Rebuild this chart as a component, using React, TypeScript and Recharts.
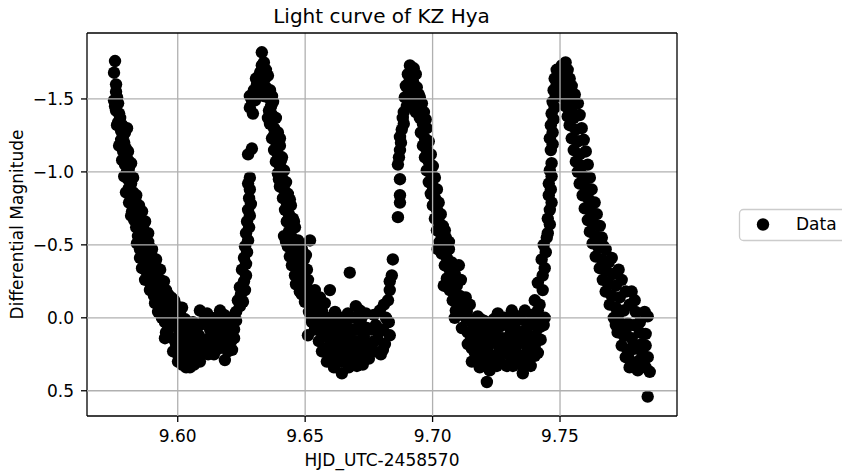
import React from 'react';
import {
  ScatterChart,
  Scatter,
  XAxis,
  YAxis,
  ReferenceLine,
} from 'recharts';

// [HJD - 2458570, differential magnitude]
const descent1: [number, number][] = [
  [9.5754, -1.76], [9.5750, -1.68], [9.5758, -1.60], [9.5758, -1.55], [9.5762, -1.51], [9.5750, -1.49],
  [9.5766, -1.47], [9.5758, -1.42], [9.5770, -1.40], [9.5774, -1.37], [9.5766, -1.34], [9.5782, -1.32],
  [9.5801, -1.30], [9.5778, -1.28], [9.5786, -1.25], [9.5778, -1.22], [9.5790, -1.20], [9.5797, -1.16],
  [9.5786, -1.14], [9.5797, -1.11], [9.5805, -1.08], [9.5793, -1.05], [9.5809, -1.03], [9.5801, -1.00],
  [9.5813, -0.98], [9.5805, -0.95], [9.5817, -0.92], [9.5809, -0.89], [9.5825, -0.86], [9.5817, -0.83],
  [9.5833, -0.81], [9.5825, -0.77], [9.5840, -0.75], [9.5821, -0.73], [9.5837, -0.71], [9.5852, -0.69],
  [9.5829, -0.67], [9.5844, -0.64], [9.5864, -0.63], [9.5852, -0.60], [9.5872, -0.58], [9.5844, -0.56],
  [9.5860, -0.53], [9.5884, -0.52], [9.5872, -0.49], [9.5891, -0.48], [9.5852, -0.47], [9.5868, -0.44],
  [9.5899, -0.42], [9.5884, -0.40], [9.5872, -0.38], [9.5911, -0.37], [9.5891, -0.34], [9.5876, -0.32],
  [9.5919, -0.32], [9.5903, -0.29], [9.5887, -0.27], [9.5931, -0.26], [9.5915, -0.23], [9.5895, -0.21],
  [9.5942, -0.21], [9.5923, -0.18], [9.5907, -0.15], [9.5962, -0.16], [9.5935, -0.13], [9.5986, -0.12],
  [9.5919, -0.10], [9.5950, -0.09], [9.5997, -0.08], [9.5931, -0.05], [9.5970, -0.05], [9.6009, -0.03],
  [9.5942, -0.01], [9.5989, 0.00], [9.6029, 0.01],
  [9.5754, -1.45], [9.5762, -1.32], [9.5793, -1.27], [9.5770, -1.18], [9.5805, -1.14], [9.5782, -1.08],
  [9.5817, -1.06], [9.5790, -0.97], [9.5825, -0.96], [9.5797, -0.86], [9.5837, -0.84], [9.5809, -0.79],
  [9.5848, -0.77], [9.5860, -0.73], [9.5817, -0.70], [9.5872, -0.66], [9.5837, -0.62], [9.5884, -0.58],
  [9.5840, -0.51], [9.5899, -0.47], [9.5852, -0.41], [9.5915, -0.40], [9.5860, -0.34], [9.5931, -0.33],
  [9.5872, -0.26], [9.5946, -0.25], [9.5891, -0.19], [9.5954, -0.19], [9.5974, -0.14], [9.5911, -0.10],
  [9.5978, -0.09], [9.6017, -0.07], [9.5923, -0.04],
];

const minimum1: [number, number][] = [
  [9.5950, 0.03], [9.5978, 0.00], [9.5962, 0.08], [9.5993, 0.05], [9.6021, 0.03], [9.5954, 0.10],
  [9.5978, 0.14], [9.6009, 0.11], [9.6040, 0.08], [9.5993, 0.18], [9.5982, 0.23], [9.6029, 0.16],
  [9.6056, 0.13], [9.6017, 0.23], [9.6048, 0.21], [9.6076, 0.17], [9.6001, 0.30], [9.6033, 0.29],
  [9.6064, 0.26], [9.6017, 0.32], [9.6048, 0.34], [9.6083, 0.23], [9.6072, 0.07], [9.6087, -0.05],
  [9.6103, 0.02], [9.6083, 0.12], [9.6123, 0.19], [9.6087, 0.30], [9.6127, 0.08], [9.6142, 0.03],
  [9.6135, 0.16], [9.6119, 0.25], [9.6158, -0.01], [9.6166, -0.05], [9.6150, 0.12], [9.6174, 0.07],
  [9.6162, 0.21], [9.6189, 0.02], [9.6197, 0.12], [9.6182, 0.18], [9.6205, 0.07], [9.6209, 0.16],
  [9.6185, 0.29], [9.6221, 0.08], [9.6217, -0.01], [9.6229, 0.02],
  [9.5938, 0.00], [9.5970, 0.05], [9.6005, 0.08], [9.6033, 0.05], [9.6060, 0.03], [9.6087, 0.05],
  [9.6115, -0.03], [9.6131, 0.00], [9.6182, -0.02], [9.6162, 0.05], [9.6189, 0.08], [9.5950, 0.14],
  [9.6040, 0.15], [9.6068, 0.21], [9.6099, 0.16], [9.6123, 0.14], [9.6146, 0.19], [9.6174, 0.15],
  [9.6197, 0.17], [9.6221, 0.14], [9.6001, 0.25], [9.6033, 0.22], [9.6099, 0.23], [9.6142, 0.25],
  [9.6197, 0.23], [9.6213, 0.22], [9.6064, 0.32], [9.6033, 0.34],
];

const rise1: [number, number][] = [
  [9.6229, -0.04], [9.6244, -0.08], [9.6236, -0.12], [9.6256, -0.11], [9.6248, -0.16], [9.6264, -0.19],
  [9.6244, -0.21], [9.6260, -0.25], [9.6268, -0.29], [9.6252, -0.33], [9.6268, -0.37], [9.6260, -0.41],
  [9.6272, -0.45], [9.6264, -0.49], [9.6276, -0.53], [9.6268, -0.58], [9.6280, -0.62], [9.6272, -0.66],
  [9.6283, -0.70], [9.6276, -0.74], [9.6287, -0.78], [9.6280, -0.82], [9.6283, -0.88], [9.6276, -0.92],
  [9.6283, -0.96], [9.6276, -1.12], [9.6291, -1.16], [9.6283, -1.44], [9.6295, -1.40], [9.6291, -1.49],
];

const peak2: [number, number][] = [
  [9.6283, -1.52], [9.6299, -1.56], [9.6303, -1.49], [9.6311, -1.60], [9.6319, -1.54], [9.6307, -1.64],
  [9.6323, -1.68], [9.6330, -1.73], [9.6338, -1.75], [9.6330, -1.82], [9.6346, -1.70], [9.6342, -1.64],
  [9.6354, -1.66], [9.6330, -1.59], [9.6346, -1.58], [9.6362, -1.56], [9.6338, -1.52], [9.6354, -1.51],
  [9.6370, -1.52], [9.6366, -1.45], [9.6358, -1.42], [9.6374, -1.48], [9.6315, -1.55],
];

const descent2: [number, number][] = [
  [9.6370, -1.39], [9.6385, -1.37], [9.6362, -1.33], [9.6378, -1.30], [9.6393, -1.27], [9.6370, -1.23],
  [9.6385, -1.21], [9.6401, -1.18], [9.6378, -1.15], [9.6393, -1.12], [9.6409, -1.10], [9.6385, -1.07],
  [9.6401, -1.04], [9.6417, -1.01], [9.6393, -0.99], [9.6409, -0.96], [9.6425, -0.93], [9.6401, -0.90],
  [9.6417, -0.88], [9.6432, -0.85], [9.6413, -0.82], [9.6428, -0.79], [9.6444, -0.77], [9.6421, -0.74],
  [9.6436, -0.71], [9.6452, -0.68], [9.6428, -0.66], [9.6444, -0.63], [9.6460, -0.62], [9.6436, -0.59],
  [9.6417, -0.56], [9.6448, -0.55], [9.6472, -0.53], [9.6519, -0.53], [9.6432, -0.49], [9.6460, -0.48],
  [9.6487, -0.47], [9.6440, -0.42], [9.6468, -0.41], [9.6495, -0.40], [9.6448, -0.36], [9.6479, -0.34],
  [9.6507, -0.33], [9.6460, -0.29], [9.6491, -0.27], [9.6475, -0.23], [9.6503, -0.21], [9.6538, -0.19],
  [9.6487, -0.16], [9.6519, -0.15], [9.6558, -0.14], [9.6597, -0.19], [9.6499, -0.11], [9.6527, -0.09],
  [9.6577, -0.10], [9.6550, -0.08], [9.6515, -0.04], [9.6675, -0.31],
  [9.6354, -1.37], [9.6378, -1.25], [9.6401, -1.23], [9.6405, -1.08], [9.6397, -0.95], [9.6440, -0.81],
  [9.6456, -0.66], [9.6425, -0.52], [9.6479, -0.51], [9.6452, -0.45], [9.6503, -0.43], [9.6472, -0.38],
  [9.6464, -0.23], [9.6511, -0.26], [9.6479, -0.18], [9.6531, -0.14],
];

const minimum2: [number, number][] = [
  [9.6538, -0.03], [9.6566, -0.05], [9.6589, 0.00], [9.6617, -0.04], [9.6644, 0.00], [9.6668, -0.03],
  [9.6695, 0.00], [9.6715, -0.05], [9.6738, -0.03], [9.6699, -0.08], [9.6550, 0.03], [9.6577, 0.05],
  [9.6605, 0.03], [9.6632, 0.07], [9.6660, 0.03], [9.6687, 0.08], [9.6715, 0.04], [9.6742, 0.07],
  [9.6511, 0.12], [9.6527, 0.03], [9.6566, 0.11], [9.6593, 0.14], [9.6620, 0.11], [9.6648, 0.15],
  [9.6675, 0.12], [9.6703, 0.16], [9.6730, 0.13], [9.6758, 0.08], [9.6581, 0.21], [9.6609, 0.18],
  [9.6636, 0.22], [9.6664, 0.19], [9.6691, 0.23], [9.6719, 0.21], [9.6746, 0.18], [9.6597, 0.27],
  [9.6624, 0.30], [9.6652, 0.26], [9.6679, 0.30], [9.6707, 0.27], [9.6734, 0.25], [9.6613, 0.34],
  [9.6644, 0.38], [9.6671, 0.34], [9.6703, 0.33], [9.6726, 0.32],
  [9.6527, 0.00], [9.6554, 0.01], [9.6609, 0.01], [9.6664, 0.01], [9.6719, 0.01], [9.6538, 0.08],
  [9.6593, 0.08], [9.6648, 0.08], [9.6703, 0.08], [9.6554, 0.16], [9.6609, 0.16], [9.6664, 0.16],
  [9.6719, 0.16], [9.6770, 0.16], [9.6566, 0.23], [9.6620, 0.23], [9.6675, 0.23], [9.6730, 0.23],
  [9.6773, 0.23], [9.6585, 0.30], [9.6640, 0.30], [9.6695, 0.30], [9.6750, 0.28],
];

const rise2: [number, number][] = [
  [9.6770, -0.02], [9.6793, -0.05], [9.6817, 0.00], [9.6777, 0.05], [9.6805, 0.08], [9.6828, 0.03],
  [9.6785, 0.15], [9.6813, 0.18], [9.6797, 0.25], [9.6832, 0.12], [9.6825, -0.12], [9.6832, -0.19],
  [9.6832, -0.25], [9.6840, -0.29], [9.6844, -0.40], [9.6864, -0.69], [9.6872, -0.79], [9.6872, -0.84],
  [9.6872, -0.95], [9.6864, -1.05], [9.6868, -1.10], [9.6872, -1.15], [9.6876, -1.20], [9.6872, -1.24],
  [9.6879, -1.29], [9.6887, -1.33], [9.6883, -1.37],
  [9.6809, -0.09], [9.6789, 0.10], [9.6805, 0.22],
];

const peak3: [number, number][] = [
  [9.6887, -1.41], [9.6899, -1.45], [9.6891, -1.51], [9.6907, -1.55], [9.6895, -1.59], [9.6911, -1.63],
  [9.6903, -1.67], [9.6919, -1.70], [9.6911, -1.73], [9.6926, -1.71], [9.6934, -1.67], [9.6923, -1.62],
  [9.6938, -1.58], [9.6946, -1.53], [9.6919, -1.52], [9.6930, -1.49], [9.6950, -1.51], [9.6942, -1.45],
  [9.6958, -1.47], [9.6934, -1.41], [9.6966, -1.41], [9.6950, -1.37], [9.6973, -1.36],
];

const descent3: [number, number][] = [
  [9.6962, -1.33], [9.6977, -1.30], [9.6954, -1.27], [9.6970, -1.23], [9.6985, -1.21], [9.6962, -1.18],
  [9.6977, -1.15], [9.6993, -1.12], [9.6970, -1.10], [9.6985, -1.07], [9.7001, -1.04], [9.6977, -1.01],
  [9.6993, -0.99], [9.7009, -0.96], [9.6985, -0.93], [9.7001, -0.90], [9.7017, -0.88], [9.6993, -0.85],
  [9.7009, -0.82], [9.7024, -0.79], [9.7001, -0.77], [9.7017, -0.74], [9.7032, -0.71], [9.7009, -0.68],
  [9.7024, -0.66], [9.7040, -0.63], [9.7017, -0.60], [9.7032, -0.58], [9.7052, -0.55], [9.7028, -0.52],
  [9.7044, -0.49], [9.7064, -0.47], [9.7036, -0.44], [9.7056, -0.41], [9.7075, -0.38], [9.7048, -0.36],
  [9.7067, -0.33], [9.7087, -0.30], [9.7056, -0.27], [9.7075, -0.25], [9.7095, -0.22], [9.7067, -0.19],
  [9.7087, -0.16], [9.7107, -0.15], [9.7079, -0.12], [9.7099, -0.09], [9.7122, -0.08], [9.7091, -0.05],
  [9.7111, -0.03], [9.7134, -0.04], [9.7087, 0.00], [9.7115, 0.07],
  [9.7048, -0.60], [9.7064, -0.52], [9.7020, -0.47], [9.7103, -0.36], [9.7111, -0.26], [9.7044, -0.22],
  [9.7130, -0.14], [9.7146, -0.09],
];

const minimum3: [number, number][] = [
  [9.7130, 0.00], [9.7154, 0.03], [9.7177, -0.01], [9.7201, 0.02], [9.7224, 0.04], [9.7256, -0.03],
  [9.7283, 0.00], [9.7311, -0.05], [9.7334, -0.01], [9.7362, -0.05], [9.7389, -0.02], [9.7413, -0.05],
  [9.7440, 0.00], [9.7138, 0.10], [9.7165, 0.13], [9.7193, 0.07], [9.7220, 0.11], [9.7248, 0.09],
  [9.7275, 0.14], [9.7303, 0.07], [9.7330, 0.12], [9.7358, 0.09], [9.7385, 0.13], [9.7413, 0.07],
  [9.7436, 0.05], [9.7154, 0.21], [9.7181, 0.18], [9.7209, 0.23], [9.7236, 0.17], [9.7264, 0.22],
  [9.7291, 0.19], [9.7318, 0.23], [9.7346, 0.17], [9.7373, 0.21], [9.7401, 0.19], [9.7424, 0.15],
  [9.7177, 0.29], [9.7205, 0.32], [9.7232, 0.27], [9.7264, 0.30], [9.7291, 0.33], [9.7318, 0.27],
  [9.7346, 0.32], [9.7373, 0.29], [9.7401, 0.26], [9.7185, 0.34], [9.7213, 0.44], [9.7354, 0.38],
  [9.7224, 0.36],
  [9.7268, 0.04], [9.7322, 0.04], [9.7373, 0.04], [9.7428, 0.04], [9.7150, 0.15], [9.7205, 0.15],
  [9.7260, 0.15], [9.7315, 0.15], [9.7370, 0.15], [9.7166, 0.24], [9.7220, 0.24], [9.7275, 0.24],
  [9.7330, 0.24], [9.7385, 0.24], [9.7413, 0.24], [9.7252, 0.33], [9.7315, 0.33], [9.7385, 0.33],
  [9.7146, 0.01], [9.7189, 0.01], [9.7240, 0.01], [9.7295, 0.01], [9.7346, 0.01], [9.7401, 0.01],
  [9.7169, 0.06], [9.7217, 0.06], [9.7264, 0.06], [9.7318, 0.06], [9.7373, 0.06], [9.7424, 0.06],
  [9.7193, 0.12], [9.7248, 0.12], [9.7303, 0.12], [9.7358, 0.12], [9.7405, 0.12], [9.7138, 0.18],
  [9.7224, 0.18], [9.7279, 0.18], [9.7334, 0.18], [9.7389, 0.18], [9.7193, 0.26], [9.7248, 0.26],
  [9.7303, 0.26], [9.7358, 0.26], [9.7154, 0.30], [9.7217, 0.30], [9.7334, 0.30], [9.7381, 0.27],
];

const rise3: [number, number][] = [
  [9.7401, -0.12], [9.7420, -0.09], [9.7432, -0.19], [9.7413, -0.24], [9.7432, -0.29], [9.7440, -0.34],
  [9.7428, -0.40], [9.7444, -0.45], [9.7436, -0.50], [9.7448, -0.55], [9.7452, -0.58], [9.7460, -0.64],
  [9.7452, -0.68], [9.7460, -0.74], [9.7467, -0.79], [9.7456, -0.84], [9.7464, -0.88], [9.7456, -0.92],
  [9.7467, -0.97], [9.7460, -1.01], [9.7467, -1.06], [9.7464, -1.15], [9.7471, -1.19], [9.7460, -1.23],
  [9.7471, -1.27], [9.7464, -1.32], [9.7475, -1.36], [9.7467, -1.40], [9.7479, -1.44], [9.7471, -1.48],
  [9.7483, -1.52], [9.7475, -1.56], [9.7487, -1.60], [9.7479, -1.64], [9.7487, -1.70],
];

const peak4: [number, number][] = [
  [9.7499, -1.66], [9.7507, -1.73], [9.7522, -1.75], [9.7530, -1.70], [9.7515, -1.63], [9.7538, -1.64],
  [9.7499, -1.58], [9.7522, -1.56], [9.7546, -1.59], [9.7511, -1.51], [9.7534, -1.49], [9.7558, -1.53],
  [9.7522, -1.45], [9.7546, -1.44], [9.7570, -1.47],
];

const descent4: [number, number][] = [
  [9.7530, -1.38], [9.7554, -1.37], [9.7577, -1.39], [9.7538, -1.32], [9.7562, -1.29], [9.7585, -1.30],
  [9.7546, -1.23], [9.7570, -1.21], [9.7593, -1.22], [9.7554, -1.15], [9.7577, -1.12], [9.7601, -1.14],
  [9.7562, -1.07], [9.7585, -1.04], [9.7609, -1.05], [9.7570, -1.00], [9.7593, -0.97], [9.7617, -0.96],
  [9.7577, -0.92], [9.7601, -0.89], [9.7624, -0.88], [9.7589, -0.84], [9.7613, -0.81], [9.7636, -0.79],
  [9.7597, -0.75], [9.7620, -0.73], [9.7644, -0.71], [9.7609, -0.67], [9.7632, -0.64], [9.7656, -0.63],
  [9.7617, -0.59], [9.7640, -0.56], [9.7664, -0.55], [9.7628, -0.51], [9.7652, -0.48], [9.7679, -0.47],
  [9.7640, -0.42], [9.7664, -0.40], [9.7691, -0.38], [9.7656, -0.34], [9.7679, -0.32], [9.7707, -0.30],
  [9.7668, -0.26], [9.7691, -0.23], [9.7719, -0.22], [9.7781, -0.18], [9.7679, -0.18], [9.7703, -0.15],
  [9.7734, -0.14], [9.7793, -0.12], [9.7695, -0.09], [9.7719, -0.07], [9.7750, -0.05], [9.7832, -0.04],
  [9.7844, -0.01], [9.7711, 0.00], [9.7734, 0.03], [9.7766, 0.04], [9.7813, 0.03], [9.7726, 0.10],
  [9.7750, 0.12], [9.7781, 0.14], [9.7836, 0.11], [9.7742, 0.19], [9.7766, 0.22], [9.7797, 0.21],
  [9.7836, 0.19], [9.7758, 0.27], [9.7781, 0.30], [9.7813, 0.29], [9.7844, 0.27], [9.7773, 0.34],
  [9.7805, 0.36], [9.7836, 0.34], [9.7852, 0.37], [9.7844, 0.54],
  [9.7671, -0.49], [9.7703, -0.41], [9.7730, -0.33], [9.7742, -0.26], [9.7758, -0.18], [9.7773, -0.09],
  [9.7797, -0.04], [9.7813, 0.10], [9.7789, 0.05], [9.7821, 0.18], [9.7719, 0.05],
  [9.7734, -0.04], [9.7758, 0.08], [9.7789, 0.18], [9.7773, 0.23], [9.7821, 0.23], [9.7797, 0.32],
  [9.7828, 0.30],
];

const xTicks = [9.6, 9.65, 9.7, 9.75];
const yTicks = [-1.5, -1.0, -0.5, 0.0, 0.5];
const xDomain: [number, number] = [9.5644, 9.7959];
const yDomain: [number, number] = [-1.952, 0.673];

const points = [
  ...descent1, ...minimum1, ...rise1, ...peak2, ...descent2, ...minimum2, ...rise2,
  ...peak3, ...descent3, ...minimum3, ...rise3, ...peak4, ...descent4,
].map(([hjd, mag]) => ({ hjd, mag }));

const FONT = '"DejaVu Sans", sans-serif';
const GRID = '#b0b0b0';

const fmtY = (v: number) => v.toFixed(1).replace('-', '\u2212');
const fmtX = (v: number) => v.toFixed(2);

const Dot = (props: any) => <circle cx={props.cx} cy={props.cy} r={6.2} fill="#000" />;

export default function App() {
  const tickStyle = { fill: '#000', fontSize: 17, fontFamily: FONT };
  const lineStyle = { stroke: '#000', strokeWidth: 1.3 };
  return (
    <div
      style={{
        position: 'absolute',
        left: 0,
        top: 0,
        width: 842,
        height: 475,
        overflow: 'hidden',
        background: '#fff',
      }}
    >
      <ScatterChart width={842} height={475} margin={{ top: 33, right: 165, bottom: 0, left: 0 }}>
        <XAxis
          type="number"
          dataKey="hjd"
          domain={xDomain}
          ticks={xTicks}
          tickFormatter={fmtX}
          allowDataOverflow
          height={59}
          tickSize={6}
          tickMargin={8}
          tick={tickStyle}
          axisLine={lineStyle}
          tickLine={lineStyle}
        />
        <YAxis
          type="number"
          dataKey="mag"
          reversed
          domain={yDomain}
          ticks={yTicks}
          tickFormatter={fmtY}
          allowDataOverflow
          width={87}
          tickSize={6}
          tickMargin={7}
          tick={tickStyle}
          axisLine={lineStyle}
          tickLine={lineStyle}
        />
        <Scatter data={points} shape={Dot} isAnimationActive={false} />
        {xTicks.map((t) => (
          <ReferenceLine key={`x${t}`} x={t} stroke={GRID} strokeWidth={1.3} zIndex={700} />
        ))}
        {yTicks.map((t) => (
          <ReferenceLine key={`y${t}`} y={t} stroke={GRID} strokeWidth={1.3} zIndex={700} />
        ))}
        {/* top and right spines */}
        <ReferenceLine x={xDomain[1]} stroke="#000" strokeWidth={1.3} zIndex={800} />
        <ReferenceLine y={yDomain[0]} stroke="#000" strokeWidth={1.3} zIndex={800} />
      </ScatterChart>
      <svg
        width={842}
        height={475}
        style={{ position: 'absolute', left: 0, top: 0, pointerEvents: 'none' }}
        fontFamily={FONT}
      >
        <text x={381.5} y={23} textAnchor="middle" fontSize={20} fill="#000">
          Light curve of KZ Hya
        </text>
        <text x={382} y={466} textAnchor="middle" fontSize={17} fill="#000">
          HJD_UTC-2458570
        </text>
        <text transform="translate(22.5,224.5) rotate(-90)" textAnchor="middle" fontSize={17} fill="#000">
          Differential Magnitude
        </text>
        <rect x={739.5} y={209.5} width={130} height={31} rx={4} fill="#fff" fillOpacity={0.8} stroke="#cccccc" strokeWidth={1.3} />
        <circle cx={763} cy={224.5} r={6.2} fill="#000" />
        <text x={796} y={229.5} fontSize={17} fill="#000">
          Data
        </text>
      </svg>
    </div>
  );
}
